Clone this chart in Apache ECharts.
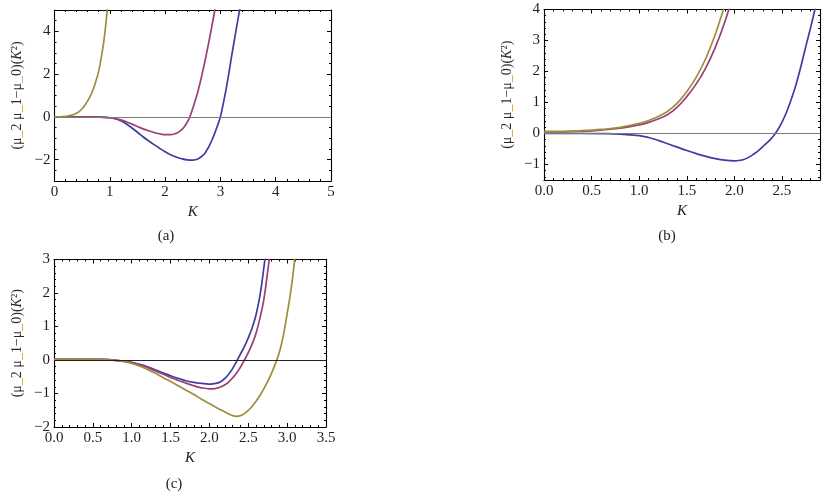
<!DOCTYPE html>
<html>
<head>
<meta charset="utf-8">
<script src="https://cdn.jsdelivr.net/npm/echarts@6/dist/echarts.min.js"></script>
<style>
html,body{margin:0;padding:0;background:#fff}
#chart{width:828px;height:500px}
</style>
</head>
<body>
<div id="chart"></div>
<script>
// 读图得到的曲线数据, 每条曲线一组 K 和一组值
// (a)
var kBlueA = [0, 0.3, 0.6, 0.7, 0.8, 0.9, 1.0, 1.1, 1.2, 1.3, 1.4, 1.5, 1.6, 1.7, 1.8, 1.9, 2.0, 2.1, 2.2, 2.3, 2.4, 2.5, 2.6, 2.7, 2.75, 2.8, 2.85, 2.9, 2.95, 3.0, 3.05, 3.1, 3.15, 3.2, 3.25, 3.3, 3.35, 3.4];
var blueA = [0, 0, 0, -0.003, -0.01, -0.02, -0.04, -0.09, -0.18, -0.33, -0.52, -0.72, -0.93, -1.12, -1.3, -1.47, -1.63, -1.77, -1.88, -1.96, -2.01, -2.02, -1.96, -1.76, -1.58, -1.34, -1.07, -0.75, -0.39, 0, 0.6, 1.25, 2.0, 2.8, 3.55, 4.3, 5.05, 5.8];
var kMagentaA = [0, 0.3, 0.6, 0.7, 0.8, 0.9, 1.0, 1.1, 1.2, 1.3, 1.4, 1.5, 1.6, 1.7, 1.8, 1.9, 2.0, 2.1, 2.2, 2.25, 2.3, 2.35, 2.4, 2.45, 2.5, 2.55, 2.6, 2.65, 2.7, 2.75, 2.8, 2.85, 2.9, 2.95];
var magentaA = [0, 0, 0, -0.003, -0.01, -0.02, -0.04, -0.08, -0.14, -0.23, -0.34, -0.45, -0.56, -0.65, -0.73, -0.79, -0.83, -0.83, -0.77, -0.7, -0.6, -0.45, -0.25, 0.02, 0.4, 0.8, 1.25, 1.78, 2.35, 2.97, 3.62, 4.3, 5.0, 5.75];
var kOliveA = [0, 0.1, 0.2, 0.3, 0.4, 0.5, 0.6, 0.65, 0.7, 0.75, 0.8, 0.85, 0.9, 0.95, 1.0];
var oliveA = [0, 0, 0.02, 0.07, 0.17, 0.38, 0.75, 0.98, 1.29, 1.68, 2.15, 2.84, 3.7, 4.9, 6.3];
// (b)
var kBlueB = [0, 0.2, 0.4, 0.6, 0.8, 1.0, 1.1, 1.2, 1.3, 1.4, 1.5, 1.6, 1.7, 1.8, 1.9, 2.0, 2.05, 2.1, 2.15, 2.2, 2.25, 2.3, 2.35, 2.4, 2.45, 2.5, 2.55, 2.6, 2.65, 2.7, 2.75, 2.8, 2.85, 2.9];
var blueB = [0, 0, 0, -0.005, -0.02, -0.07, -0.13, -0.22, -0.33, -0.44, -0.55, -0.65, -0.74, -0.81, -0.86, -0.88, -0.87, -0.84, -0.77, -0.67, -0.56, -0.42, -0.28, -0.12, 0.09, 0.36, 0.7, 1.12, 1.6, 2.17, 2.8, 3.4, 4.05, 4.75];
var kMagentaB = [0, 0.2, 0.4, 0.6, 0.8, 1.0, 1.1, 1.2, 1.3, 1.4, 1.5, 1.6, 1.7, 1.8, 1.9, 2.0];
var magentaB = [0.05, 0.05, 0.07, 0.11, 0.17, 0.28, 0.36, 0.47, 0.61, 0.85, 1.19, 1.6, 2.12, 2.78, 3.6, 4.6];
var kOliveB = [0, 0.2, 0.4, 0.6, 0.8, 1.0, 1.1, 1.2, 1.3, 1.4, 1.5, 1.6, 1.7, 1.8, 1.9];
var oliveB = [0.07, 0.07, 0.09, 0.13, 0.2, 0.33, 0.42, 0.55, 0.72, 0.98, 1.35, 1.82, 2.42, 3.2, 4.15];
// (c)
var kBlueC = [0, 0.3, 0.6, 0.7, 0.8, 0.9, 1.0, 1.1, 1.2, 1.3, 1.4, 1.5, 1.6, 1.7, 1.8, 1.9, 1.95, 2.0, 2.05, 2.1, 2.15, 2.2, 2.25, 2.3, 2.35, 2.4, 2.45, 2.5, 2.55, 2.6, 2.65, 2.7, 2.75];
var blueC = [0.02, 0.02, 0.02, 0.01, -0.01, -0.03, -0.07, -0.13, -0.2, -0.29, -0.38, -0.47, -0.55, -0.62, -0.67, -0.7, -0.71, -0.72, -0.71, -0.69, -0.64, -0.55, -0.42, -0.25, -0.04, 0.18, 0.4, 0.66, 0.96, 1.35, 1.92, 2.75, 3.7];
var kMagentaC = [0, 0.3, 0.6, 0.7, 0.8, 0.9, 1.0, 1.1, 1.2, 1.3, 1.4, 1.5, 1.6, 1.7, 1.8, 1.9, 2.0, 2.05, 2.1, 2.15, 2.2, 2.25, 2.3, 2.35, 2.4, 2.45, 2.5, 2.55, 2.6, 2.65, 2.7, 2.75, 2.8, 2.85];
var magentaC = [0.02, 0.02, 0.02, 0.01, -0.01, -0.04, -0.08, -0.14, -0.22, -0.32, -0.42, -0.52, -0.61, -0.69, -0.77, -0.83, -0.86, -0.86, -0.84, -0.8, -0.74, -0.65, -0.53, -0.39, -0.21, 0, 0.22, 0.48, 0.8, 1.25, 1.8, 2.65, 3.55, 4.5];
var kOliveC = [0, 0.3, 0.6, 0.7, 0.8, 0.9, 1.0, 1.1, 1.2, 1.3, 1.4, 1.5, 1.6, 1.7, 1.8, 1.9, 2.0, 2.1, 2.2, 2.25, 2.3, 2.35, 2.4, 2.45, 2.5, 2.55, 2.6, 2.65, 2.7, 2.75, 2.8, 2.85, 2.9, 2.95, 3.0, 3.05, 3.1, 3.15];
var oliveC = [0.02, 0.02, 0.02, 0.01, -0.02, -0.05, -0.1, -0.18, -0.28, -0.39, -0.52, -0.64, -0.77, -0.9, -1.03, -1.17, -1.3, -1.43, -1.55, -1.61, -1.66, -1.68, -1.66, -1.6, -1.5, -1.38, -1.23, -1.06, -0.86, -0.64, -0.39, -0.1, 0.23, 0.72, 1.38, 2.1, 3.05, 4.2];

// 刻度
var xMajorA = [0, 1, 2, 3, 4, 5];
var yMajorA = [-2, 0, 2, 4];
var xMajorB = [0, 0.5, 1, 1.5, 2, 2.5];
var yMajorB = [-1, 0, 1, 2, 3, 4];
var xMajorC = [0, 0.5, 1, 1.5, 2, 2.5, 3, 3.5];
var yMajorC = [-2, -1, 0, 1, 2, 3];

var BLUE = '#3f3d9f', MAGENTA = '#9d3d75', OLIVE = '#9d8e3d';
var FONT = '"Liberation Serif", "DejaVu Serif", serif';
var YNAME = '(μ{u|_}2 μ{u|_}1−μ{u|_}0)({i|K}²)';

function steps(a, b, d) {//小刻度位置
    var r = [];
    var n = Math.round((b - a) / d);
    for (var i = 0; i <= n; i++) r.push(+(a + i * d).toFixed(4));
    return r;
}
function fmtInt(v) { return v < 0 ? '\u2212' + (-v) : String(v); }
function fmt1(v) { return (v < 0 ? '\u2212' : '') + Math.abs(v).toFixed(1); }

// 一个方向四根轴: 主刻度(带标签) 小刻度 对面主刻度 对面小刻度
function frameAxes(dim, grid, min, max, majors, minors, fmt, name) {
    var sides = dim == 'x' ? ['bottom', 'top'] : ['left', 'right'];
    var out = [];
    [0, 1].forEach(function (s) {
        [true, false].forEach(function (isMajor) {
            var labeled = s == 0 && isMajor;
            var ax = {
                type: 'value', gridIndex: grid, position: sides[s], min: min, max: max,
                axisLine: { show: isMajor, onZero: false, lineStyle: { color: '#000', width: 1.1 } },
                axisTick: { show: true, inside: true, length: isMajor ? 4 : 2,
                    customValues: isMajor ? majors : minors,
                    lineStyle: { color: '#000', width: 1 } },
                axisLabel: { show: labeled, customValues: majors, formatter: fmt,
                    fontFamily: FONT, fontSize: 15, color: '#1e1e2a', margin: 4 },
                splitLine: { show: false }
            };
            if (labeled && dim == 'x') {
                ax.name = 'K';
                ax.nameLocation = 'middle';
                ax.nameGap = 24;
                ax.nameTextStyle = { fontFamily: FONT, fontStyle: 'italic', fontSize: 15, color: '#222' };
            }
            if (labeled && dim == 'y') {
                ax.name = name;
                ax.nameLocation = 'middle';
                ax.nameRotate = 90;
                ax.nameGap = 30;
                ax.nameTextStyle = { fontFamily: FONT, fontSize: 14, color: '#2a2a2a',
                    rich: {
                        u: { fontFamily: FONT, fontSize: 14, color: '#e08a1e' },
                        i: { fontFamily: FONT, fontSize: 14, fontStyle: 'italic', color: '#2a2a2a' }
                    } };
            }
            out.push(ax);
        });
    });
    return out;
}

function pairs(ks, vs) {
    var res = [];
    for (var i = 0; i < ks.length; i++) res.push([ks[i], vs[i]]);
    return res;
}

function curve(p, ks, vs, color, zeroColor) {
    var s = {
        type: 'line', xAxisIndex: p * 4, yAxisIndex: p * 4,
        data: pairs(ks, vs), showSymbol: false, smooth: 0.4, clip: true,
        lineStyle: { color: color, width: 1.7 }, itemStyle: { color: color }
    };
    if (zeroColor) {
        s.markLine = {
            silent: true, symbol: ['none', 'none'], label: { show: false },
            lineStyle: { color: zeroColor, width: 1.2, type: 'solid' },
            data: [{ yAxis: 0 }]
        };
    }
    return s;
}

var myChart = echarts.init(document.getElementById('chart'));
var option = {
    animation: false,
    backgroundColor: '#fff',
    grid: [
        { left: 54.5, top: 10, width: 276.5, height: 171 },
        { left: 544, top: 9.5, width: 276, height: 170.5 },
        { left: 54, top: 259.5, width: 272, height: 167.5 }
    ],
    xAxis: [].concat(
        frameAxes('x', 0, 0, 5, xMajorA, steps(0, 5, 0.2), fmtInt),
        frameAxes('x', 1, 0, 2.9, xMajorB, steps(0, 2.9, 0.1), fmt1),
        frameAxes('x', 2, 0, 3.5, xMajorC, steps(0, 3.5, 0.1), fmt1)
    ),
    yAxis: [].concat(
        frameAxes('y', 0, -3, 5, yMajorA, steps(-3, 5, 0.5), fmtInt, YNAME),
        frameAxes('y', 1, -1.5, 4, yMajorB, steps(-1.4, 4, 0.2), fmtInt, YNAME),
        frameAxes('y', 2, -2, 3, yMajorC, steps(-2, 3, 0.2), fmtInt, YNAME)
    ),
    graphic: [
        { type: 'text', x: 166, y: 236, style: { text: '(a)', font: '15px ' + FONT, fill: '#222', align: 'center', verticalAlign: 'middle' } },
        { type: 'text', x: 667, y: 236, style: { text: '(b)', font: '15px ' + FONT, fill: '#222', align: 'center', verticalAlign: 'middle' } },
        { type: 'text', x: 174, y: 484, style: { text: '(c)', font: '15px ' + FONT, fill: '#222', align: 'center', verticalAlign: 'middle' } }
    ],
    series: [
        curve(0, kBlueA, blueA, BLUE, '#7a7a7a'),
        curve(0, kMagentaA, magentaA, MAGENTA),
        curve(0, kOliveA, oliveA, OLIVE),
        curve(1, kBlueB, blueB, BLUE, '#7a7a7a'),
        curve(1, kMagentaB, magentaB, MAGENTA),
        curve(1, kOliveB, oliveB, OLIVE),
        curve(2, kBlueC, blueC, BLUE, '#222'),
        curve(2, kMagentaC, magentaC, MAGENTA),
        curve(2, kOliveC, oliveC, OLIVE)
    ]
};
myChart.setOption(option);
</script>
</body>
</html>
